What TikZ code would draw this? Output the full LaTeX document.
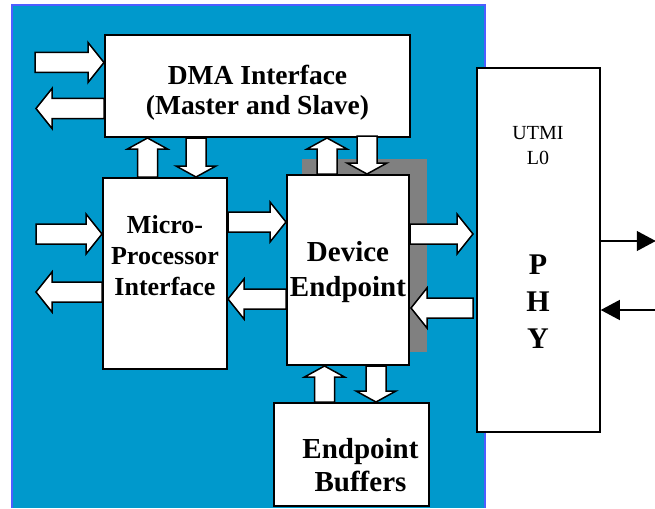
\documentclass[tikz,border=0pt]{standalone}
\usepackage{fontspec}
\setmainfont{Liberation Serif}
\usetikzlibrary{positioning, arrows.meta, calc}

\definecolor{panelblue}{RGB}{0,153,204}
\definecolor{edgeblue}{RGB}{77,94,255}
\definecolor{shadowgray}{RGB}{128,128,128}

% block arrow sizes: shaft half width, head half width, head length
\newcommand{\fatw}{10pt}
\newcommand{\fatW}{20pt}
\newcommand{\fath}{16pt}

\tikzset{
  fat/.style={draw, fill=white, line width=1.5pt, line join=miter,
    to path={
      ($(\tikztotarget)!\fath!(\tikztostart)$) coordinate (fh)
      ($(\tikztostart)!\fatw!-90:(\tikztotarget)$)
      -- ($(fh)!\fatw!90:(\tikztostart)$)
      -- ($(fh)!\fatW!90:(\tikztostart)$)
      -- (\tikztotarget)
      -- ($(fh)!\fatW!-90:(\tikztostart)$)
      -- ($(fh)!\fatw!-90:(\tikztostart)$)
      -- ($(\tikztostart)!\fatw!90:(\tikztotarget)$)
      -- cycle}},
  short/.code={\renewcommand{\fath}{11pt}},
}

\begin{document}
\begin{tikzpicture}[x=1pt, y=-1pt,
    box/.style={draw, line width=2pt, fill=white, inner sep=0pt},
    lbl/.style 2 args={align=center, inner sep=0pt, font=\fontsize{#1}{#2}\selectfont\bfseries},
    wire/.style={line width=1.2pt, -{Triangle[length=19pt, width=20pt]}}]
  \useasboundingbox (0,0) rectangle (655,508);

  % controller area
  \fill[panelblue] (12,5) rectangle (485,508);
  \draw[edgeblue, line width=1.5pt] (12,508) -- (12,5) -- (485,5) -- (485,508);
  \fill[shadowgray] (302,159) rectangle (427,352);

  % blocks
  \node[box, minimum width=305pt, minimum height=102pt] (dma) at (257.5,86) {};
  \node[box, minimum width=124pt, minimum height=191pt] (mpi) at (165,273.5) {};
  \node[box, minimum width=122pt, minimum height=190pt] (dev) at (348,270) {};
  \node[box, minimum width=155pt, minimum height=103pt] (buf) at (351.5,454.5) {};
  \node[box, line width=1.5pt, minimum width=123pt, minimum height=364pt] (phy) at (538.5,250) {};

  % arrow end points
  \coordinate (dmaIn) at ($(dma.west)+(0,-23.5)$);
  \coordinate (dmaInT) at ($(dmaIn)+(-69,0)$);
  \coordinate (dmaOut) at ($(dma.west)+(0,22.5)$);
  \coordinate (dmaOutT) at ($(dmaOut)+(-68,0)$);
  \coordinate (mpiUp) at ($(mpi.north)+(-17.5,0)$);
  \coordinate (mpiUpT) at (mpiUp |- dma.south);
  \coordinate (mpiDn) at ($(dma.south)+(-61.5,0)$);
  \coordinate (mpiDnT) at (mpiDn |- mpi.north);
  \coordinate (devUp) at ($(dev.north)+(-21,0)$);
  \coordinate (devUpT) at (devUp |- dma.south);
  \coordinate (devDn) at ($(dev.north)+(19,0) - (0,38)$);
  \coordinate (devDnT) at (devDn |- dev.north);
  \coordinate (mpiIn) at ($(mpi.west)+(0,-39.5)$);
  \coordinate (mpiInT) at ($(mpiIn)+(-66,0)$);
  \coordinate (mpiOut) at ($(mpi.west)+(0,18.5)$);
  \coordinate (mpiOutT) at ($(mpiOut)+(-66,0)$);
  \coordinate (toDev) at ($(mpi.east)+(0,-51.5)$);
  \coordinate (toDevT) at (toDev -| dev.west);
  \coordinate (toMpi) at ($(dev.west)+(0,29)$);
  \coordinate (toMpiT) at (toMpi -| mpi.east);
  \coordinate (toPhy) at ($(dev.east)+(0,-36)$);
  \coordinate (toPhyT) at ($(toPhy)+(63,0)$);
  \coordinate (fromPhy) at ($(dev.east)+(63,38)$);
  \coordinate (fromPhyT) at ($(dev.east)+(1,38)$);
  \coordinate (bufUp) at ($(buf.north)+(-27,0)$);
  \coordinate (bufUpT) at (bufUp |- dev.south);
  \coordinate (bufDn) at ($(dev.south)+(28,0)$);
  \coordinate (bufDnT) at (bufDn |- buf.north);

  \draw[fat] (dmaInT) to (dmaIn);
  \draw[fat] (dmaOut) to (dmaOutT);
  \draw[fat, short] (mpiUp) to (mpiUpT);
  \draw[fat, short] (mpiDn) to (mpiDnT);
  \draw[fat, short] (devUp) to (devUpT);
  \draw[fat, short] (devDn) to (devDnT);
  \draw[fat] (mpiInT) to (mpiIn);
  \draw[fat] (mpiOut) to (mpiOutT);
  \draw[fat] (toDev) to (toDevT);
  \draw[fat] (toMpi) to (toMpiT);
  \draw[fat] (toPhy) to (toPhyT);
  \draw[fat] (fromPhy) to (fromPhyT);
  \draw[fat, short] (bufUp) to (bufUpT);
  \draw[fat, short] (bufDn) to (bufDnT);

  % serial side of the PHY
  \coordinate (txEnd) at ($(phy.east)+(55,-9)$);
  \coordinate (rxEnd) at ($(phy.east)+(55,60)$);
  \draw[wire] ($(phy.east)+(-2,-9)$) -- (txEnd);
  \draw[wire] (rxEnd) -- ($(phy.east)+(0,60)$);

  % labels
  \node[lbl={27.5}{30}] (dmatxt) at (257.5,93) {DMA Interface\\(Master and Slave)};
  \node[lbl={26}{31}] (mpitxt) at (165,256) {Micro-\\Processor\\Interface};
  \node[lbl={29}{35}] (devtxt) at (348,272) {Device\\Endpoint};
  \node[lbl={29}{33}] (buftxt) at (360.5,465) {Endpoint\\Buffers};
  \node[align=center, inner sep=0pt, font=\fontsize{20}{25}\selectfont] (utmi) at (538,146) {UTMI\\L0};
  \node[lbl={30}{37}] (phytxt) at (538,302) {P\\H\\Y};
\end{tikzpicture}
\end{document}
